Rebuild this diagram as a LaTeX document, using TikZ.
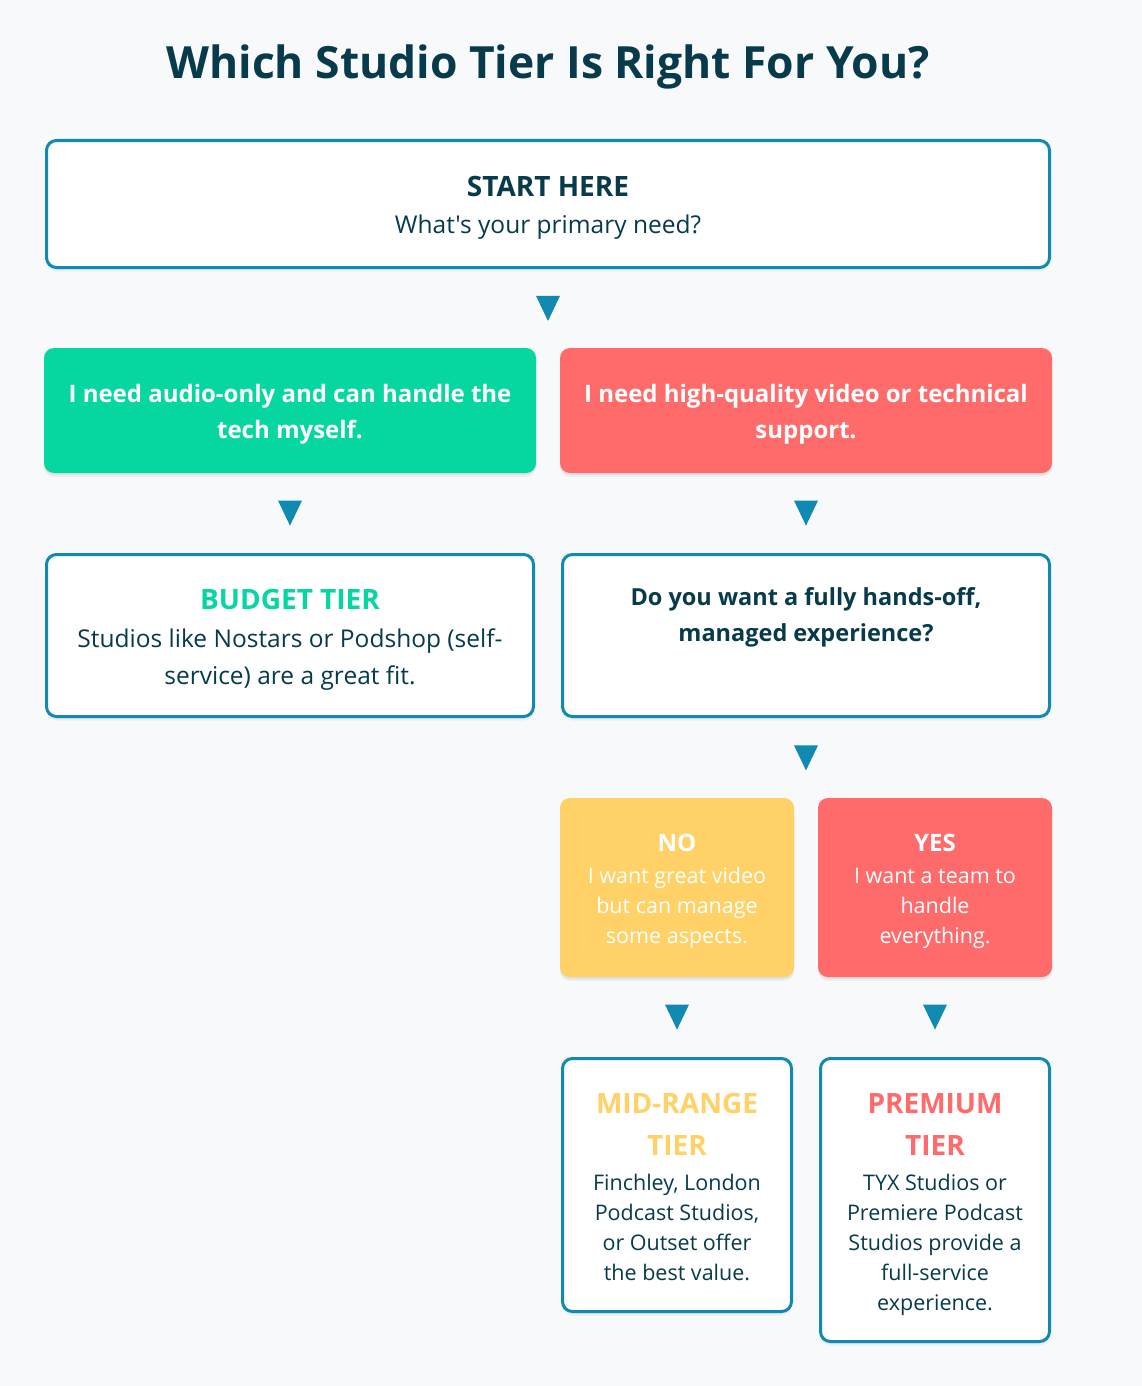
\documentclass[tikz,border=0pt]{standalone}
\usepackage{fontspec}
\setmainfont{Open Sans}[Ligatures=TeXOff]
\usetikzlibrary{calc,shadows}
\definecolor{bgc}{HTML}{F8F9FA}
\definecolor{tealc}{HTML}{118AB2}
\definecolor{darkc}{HTML}{073B4C}
\definecolor{greenc}{HTML}{06D6A0}
\definecolor{redc}{HTML}{FF6B6B}
\definecolor{yellowc}{HTML}{FFD166}
\newcommand\mylines[1]{\begin{tabular}[t]{@{}c@{}}#1\end{tabular}}
\begin{document}
\begin{tikzpicture}[x=1pt,y=-1pt,
  softshadow/.style={drop shadow={shadow xshift=0pt,shadow yshift=-4pt,opacity=0.045,fill=black},
                     drop shadow={shadow xshift=0pt,shadow yshift=-2pt,opacity=0.05,fill=black}},
  boxbase/.style={rectangle,rounded corners=10pt,inner sep=0pt,softshadow},
  wbox/.style={boxbase,draw=tealc,line width=3pt,fill=white},
  cbox/.style={boxbase,fill=#1},
  txt/.style={anchor=base,inner sep=0pt,text=darkc},
  titlef/.style={font=\bfseries\fontsize{44.4}{50}\selectfont},
  headf/.style={font=\bfseries\fontsize{28}{32}\selectfont},
  bodyf/.style={font=\fontsize{24.5}{37}\selectfont},
  cboldf/.style={font=\bfseries\fontsize{24}{36}\selectfont},
  qboldf/.style={font=\bfseries\fontsize{23.5}{36.5}\selectfont},
  smallf/.style={font=\fontsize{21.5}{30}\selectfont},
  tierf/.style={font=\bfseries\fontsize{28}{42}\selectfont},
  tri/.style={fill=tealc}
]
\fill[bgc] (0,0) rectangle (1142,1386);
\useasboundingbox (0,0) rectangle (1142,1386);

\node[txt,titlef] (title) at (548,79) {Which Studio Tier Is Right For You?};

% start
\node[wbox,minimum width=1003,minimum height=127] (start) at (548,204) {};
\node[txt,headf] (startH) at (548,196) {START HERE};
\node[txt,bodyf] (startB) at (548,233) {What's your primary need?};

% first split
\node[cbox=greenc,minimum width=492,minimum height=125] (need1) at (290,410.5) {};
\node[txt,cboldf,text=white] (need1T) at (290,402.7) {\mylines{I need audio-only and can handle the\\tech myself.}};
\node[cbox=redc,minimum width=492,minimum height=125] (need2) at (806,410.5) {};
\node[txt,cboldf,text=white] (need2T) at (806,402.7) {\mylines{I need high-quality video or technical\\support.}};

% budget
\node[wbox,minimum width=487,minimum height=162] (budget) at (290,635.5) {};
\node[txt,headf,text=greenc] (budgetH) at (290,609.5) {BUDGET TIER};
\node[txt,bodyf] (budgetB) at (290,647.5) {\mylines{Studios like Nostars or Podshop (self-\\service) are a great fit.}};

% question
\node[wbox,minimum width=487,minimum height=162] (quest) at (806,635.5) {};
\node[txt,qboldf] (questT) at (806,605) {\mylines{Do you want a fully hands-off,\\managed experience?}};

% no / yes
\node[cbox=yellowc,minimum width=234,minimum height=179] (no) at (677,887.5) {};
\node[txt,cboldf,text=white] (noH) at (677,851) {NO};
\node[txt,smallf,text=white] (noB) at (677,883.3) {\mylines{I want great video\\but can manage\\some aspects.}};
\node[cbox=redc,minimum width=234,minimum height=179] (yes) at (935,887.5) {};
\node[txt,cboldf,text=white] (yesH) at (935,851) {YES};
\node[txt,smallf,text=white] (yesB) at (935,883.3) {\mylines{I want a team to\\handle\\everything.}};

% tiers
\node[wbox,minimum width=229,minimum height=253] (mid) at (677,1185) {};
\node[txt,tierf,text=yellowc] (midH) at (677,1113) {\mylines{MID-RANGE\\TIER}};
\node[txt,smallf] (midB) at (677,1190) {\mylines{Finchley, London\\Podcast Studios,\\or Outset offer\\the best value.}};
\node[wbox,minimum width=229,minimum height=283] (prem) at (935,1200) {};
\node[txt,tierf,text=redc] (premH) at (935,1113) {\mylines{PREMIUM\\TIER}};
\node[txt,smallf] (premB) at (935,1190) {\mylines{TYX Studios or\\Premiere Podcast\\Studios provide a\\full-service\\experience.}};

% arrow markers
\coordinate (a1) at ($(start.south)!0.5!(start.south |- need1.north)$);
\coordinate (a2) at ($(need1.south)!0.5!(budget.north)$);
\coordinate (a3) at ($(need2.south)!0.5!(quest.north)$);
\coordinate (a4) at ($(quest.south)!0.5!(quest.south |- no.north)$);
\coordinate (a5) at ($(no.south)!0.5!(mid.north)$);
\coordinate (a6) at ($(yes.south)!0.5!(prem.north)$);
\foreach \c in {a1,a2,a3,a4,a5,a6}
  \fill[tri] ($(\c)+(-12,-12.5)$) -- ++(24,0) -- ++(-12,25) -- cycle;
\end{tikzpicture}
\end{document}
